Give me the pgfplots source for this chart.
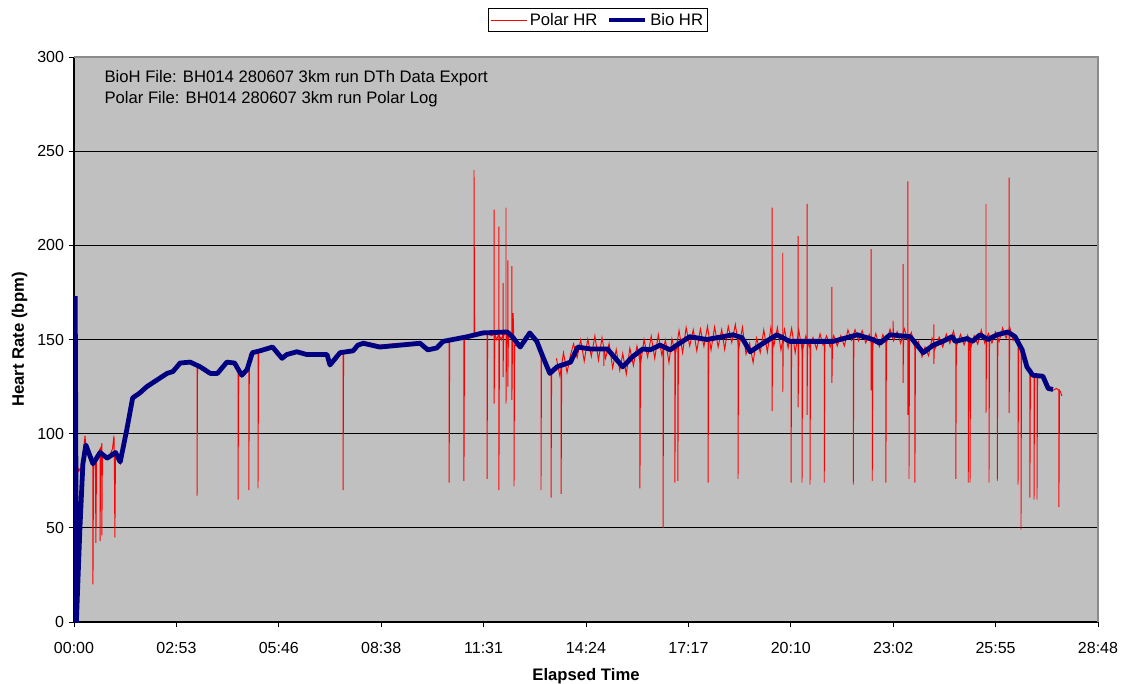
\documentclass[border=0pt]{standalone}
\usepackage{fontspec}
\setmainfont{Liberation Sans}
\usepackage{pgfplots}
\pgfplotsset{compat=1.18}
\definecolor{plotbg}{RGB}{192,192,192}
\definecolor{navyblue}{RGB}{0,0,128}
\definecolor{bordergray}{RGB}{140,140,140}
\begin{document}
\begin{tikzpicture}
\begin{axis}[
  at={(0,0)}, anchor=south west,
  scale only axis, width=768pt, height=423.75pt,
  xmin=0, xmax=1728, ymin=0, ymax=300,
  axis lines=left, axis line style={-, black, line width=0.9pt},
  tick align=outside, major tick length=4pt,
  tick style={black, line width=0.7pt},
  xtick={0,172.8,345.6,518.4,691.2,864,1036.8,1209.6,1382.4,1555.2,1728},
  xticklabels={00:00,02:53,05:46,08:38,11:31,14:24,17:17,20:10,23:02,25:55,28:48},
  xticklabel style={yshift=-7.5pt},
  ytick={0,50,100,150,200,250,300},
  ymajorgrids, grid style={black, line width=0.8pt},
  axis background/.style={fill=plotbg},
  ticklabel style={font=\fontsize{12}{14}\selectfont},
  /pgf/number format/assume math mode=true,
  legend columns=2,
  legend style={at={(0.5117,1)}, anchor=center, yshift=27.75pt, draw=black, line width=0.6pt, fill=white,
    font=\fontsize{12.5}{14}\selectfont, inner sep=1.5pt,
    /tikz/every even column/.append style={column sep=5pt}},
  legend image code/.code={\draw[#1] (0pt,0pt) -- (27pt,0pt);},
]
\addplot[red, line width=0.7pt] coordinates {
(1,87) (4,85) (8,80) (11,82) (11.8,43) (12.5,80) (15,88) (18.6,99) (20,93) (25,88) (29,85) (32,84) (32,20) (33,84)
(36,86) (37,42) (38,85) (41,90) (44,92) (44,43) (45,88) (47,95) (47,46) (48,90) (51,88) (56,86) (61,89) (65,92)
(67.5,99) (68,88) (69,45) (70,88) (74,86) (78,84) (82,92) (89,104) (99,120) (111,122) (123,126) (140,129) (157,132)
(167,134) (179,138) (196,138.5) (207.6,136) (207.6,67) (208.5,135) (213,135) (230,132) (242,132) (258,138) (271,137)
(276.8,133) (276.8,65) (277.8,132) (283,131) (292,134) (295,140) (295,70) (296,142) (301,143) (310.5,144) (310.5,71)
(311.5,144) (335,146) (351,140) (359,142) (376,143.5) (393,142) (427,142) (432,136.5) (449,143) (454,143) (454,70)
(455,143) (471,144) (479,147) (488,149) (516,147) (550,148) (584,148) (597,144.5) (612,146) (623,149) (633,150)
(633,74) (634,150) (658,151) (658,75) (659,151) (664,151.5) (675,152) (675,240) (676,152) (690,153.5) (697,153)
(697,76) (698,153) (705,152) (709,153) (709,219) (709,116) (710,153) (713,150) (717,153) (717,210) (717,70) (718,152)
(721,150) (724,153) (724,180) (724,130) (725,152) (729,154) (729,220) (729,116) (730,152) (732,153) (732,192) (732,125)
(733,150) (736,154) (739,152) (739,189) (739,118) (740,150) (741,150) (741,164) (742.5,148) (742.5,72) (743.5,147)
(753,146) (769,154) (781,149) (788,144) (788,70) (789,143) (791,141) (803,132) (805,131) (805,66) (806,132) (815,136)
(822,137) (822,68) (823,137) (838,138) (850,146) (871,145) (894,145) (894,136) (895,145) (900,145) (926,135.5)
(943,141) (955,144) (955,71) (956,144) (960,145) (972,144.5) (989,147) (994,146) (994,50) (995,146) (1006,144.5)
(1014,146) (1014,74) (1015,146) (1019,147) (1019,75) (1020,147) (1022,148) (1039,151.5) (1068,150) (1070,150) (1070,74)
(1071,150) (1112,152.5) (1120.5,151) (1120.5,76) (1121.5,150) (1127,151) (1141,143.5) (1158,147) (1178,152) (1178,220)
(1178,112) (1179,152) (1186,152.5) (1196,152) (1196,196) (1196,122) (1197,151) (1208,149) (1210,149) (1210,74) (1211,149)
(1222,149) (1222,205) (1222,114) (1223,149) (1228.5,149) (1228.5,74) (1229.5,149) (1237,149) (1237,222) (1237,110)
(1238,149) (1242,149) (1242,73) (1243,149) (1266,149) (1266,74) (1267,149) (1279,149) (1279,178) (1279,127) (1280,149)
(1281,149) (1315,151) (1315,73) (1316,151) (1322,152.5) (1345,150) (1345,198) (1345,123) (1347,150) (1347,75) (1348,150)
(1360,148) (1370,151) (1370,74) (1371,151) (1377,152.5) (1382,152) (1382,160) (1383,152) (1399,152) (1399,190) (1399,127)
(1400,152) (1407,151) (1407,234) (1407,110) (1408,151) (1409,151) (1409,76) (1410,151) (1411,151.5) (1419,148) (1419,74)
(1420,147) (1433,143) (1450,147) (1451,147) (1451,158) (1451,137) (1452,147) (1466,149) (1482,151.5) (1487,149) (1488,149)
(1488,76) (1489,149) (1507,150.5) (1509,150) (1509,74) (1510,150) (1512,149) (1512,74) (1513,149) (1516,149) (1529,152.5)
(1539,151) (1539,222) (1539,111) (1540,151) (1542,150) (1544,151) (1544,74) (1545,151) (1558,152.5) (1558,75) (1559,152)
(1576,154) (1578,154) (1578,236) (1578,111) (1579,153) (1588,151.5) (1593,148) (1593,73) (1594,147) (1598,145) (1598,49)
(1599,144) (1608,135.5) (1613,133) (1613,66) (1614,133) (1618,131) (1620,131) (1620,65) (1621,131) (1625,130.5) (1625,65)
(1626,130) (1635,130) (1644,124) (1652,123) (1658,124) (1662,123) (1662,61) (1663,123) (1665,122) (1667,120)
};
\addlegendentry{Polar HR}
\addplot[red, line width=0.7pt, forget plot] coordinates {
(814,140) (820,130.5) (826,143) (832,132.5) (838,142) (843,147.7) (849,140.4) (855,149.8) (861,138.5) (867,150.2)
(873,141) (879,152) (885,139) (891,151) (897,140) (903,147.9) (909,134.8) (915,144.7) (921,133.6) (926,142.5)
(932,131.6) (938,145.4) (944,136.2) (950,146.6) (956,137) (962,150) (968,140.7) (974,151.8) (980,139.9) (986,152.6)
(992,141.6) (998,149.7) (1004,137.8) (1009,150.3) (1015,142.5) (1021,154.8) (1027,143) (1033,156.3) (1039,146.5)
(1045,155.2) (1051,143.9) (1057,155.6) (1063,146.3) (1069,157) (1075,144.4) (1081,156.7) (1087,146) (1093,155.4)
(1098,144.7) (1104,157) (1110,148.4) (1116,158) (1122,145.6) (1128,156.5) (1134,142.2) (1140,148) (1146,137.7)
(1152,150.8) (1158,143) (1164,155.1) (1170,143.3) (1176,156.4) (1181,146.6) (1187,156.3) (1193,144.4) (1199,155.4)
(1205,145.5) (1211,156) (1217,143) (1223,155) (1229,144) (1235,152) (1241,146) (1247,151) (1253,145) (1259,153)
(1264,147) (1270,152) (1276,146) (1282,152.1) (1288,146.6) (1294,152.1) (1300,146.6) (1306,155.1) (1312,149.6)
(1318,155.2) (1324,149.3) (1330,154.7) (1336,148.2) (1342,152.7) (1347,146.1) (1353,153.2) (1359,146.2) (1365,152.6)
(1371,148) (1377,155.5) (1383,149.3) (1389,154.2) (1395,148) (1401,155.8) (1407,149.7) (1413,153.7) (1419,145.4)
(1425,149) (1431,140.8) (1436,146) (1442,141.4) (1448,150.8) (1454,145.6) (1460,151.3) (1466,146) (1472,152.9)
(1478,147.9) (1484,154.5) (1490,147.3) (1496,152.7) (1502,147.1) (1508,152.3) (1514,146.3) (1519,152) (1525,147.5)
(1531,155.1) (1537,148) (1543,153.2) (1549,148.1) (1555,154) (1561,148.8) (1567,156.2) (1573,150.7) (1579,156.5) (1585,149.1)
};
\addplot[navyblue, line width=3.6pt, line join=round] coordinates {
(2,173) (3,100) (4,0) (10,50) (15,84) (20,94) (32,84) (44,90) (56,87) (70,90) (78,85) (89,102) (99,119) (111,121.6)
(123,125) (140,128.5) (157,132) (167,133) (179,137.5) (196,138) (213,135.5) (230,132) (242,132) (258,138) (271,137.5)
(283,131) (292,134) (301,143) (314,144) (335,146) (351,140) (359,142) (376,143.5) (393,142) (427,142) (432,136.5)
(449,143) (471,144) (479,147) (488,148) (516,146) (550,147) (584,148) (597,144.5) (612,145.5) (623,149) (664,151.5)
(690,153.5) (731,154) (741,151) (753,146) (769,153.5) (781,149) (791,141) (803,132) (815,135.5) (838,138) (850,146)
(871,145) (900,145) (926,135.5) (943,141) (960,145) (972,144.5) (989,147) (1006,144.5) (1022,148) (1039,151.5)
(1068,150) (1112,152.5) (1127,151) (1141,143.5) (1158,147) (1186,152.5) (1208,149) (1237,149) (1281,149) (1322,152.5)
(1348,150) (1360,148) (1377,152.5) (1411,151.5) (1433,143) (1450,147) (1466,149) (1482,151.5) (1487,149) (1507,150.5)
(1516,149) (1529,152.5) (1542,150) (1558,152.5) (1576,154) (1588,151.5) (1600,144.5) (1608,135.5) (1618,131)
(1635,130.5) (1644,124) (1652,123.5)
};
\addlegendentry{Bio HR}
\end{axis}
\draw[bordergray, line width=1pt] (0,423.75pt) -- (768pt,423.75pt) -- (768pt,0);
\node[anchor=base west, inner sep=0pt, font=\fontsize{12.5}{15}\selectfont] at (22.7pt,404.75pt) {BioH File: BH014 280607 3km run DTh Data Export};
\node[anchor=base west, inner sep=0pt, font=\fontsize{12.5}{15}\selectfont] at (22.7pt,388.5pt) {Polar File: BH014 280607 3km run Polar Log};
\node[anchor=base, inner sep=0pt, font=\bfseries\fontsize{12.5}{15}\selectfont] at (384pt,-43.5pt) {Elapsed Time};
\node[anchor=base, rotate=90, inner sep=0pt, font=\bfseries\fontsize{12.5}{15}\selectfont] at (-37.5pt,211.9pt) {Heart Rate (bpm)};
\pgfresetboundingbox
\path (-55.5pt,-45.75pt) rectangle (786.75pt,466.5pt);
\end{tikzpicture}
\end{document}
